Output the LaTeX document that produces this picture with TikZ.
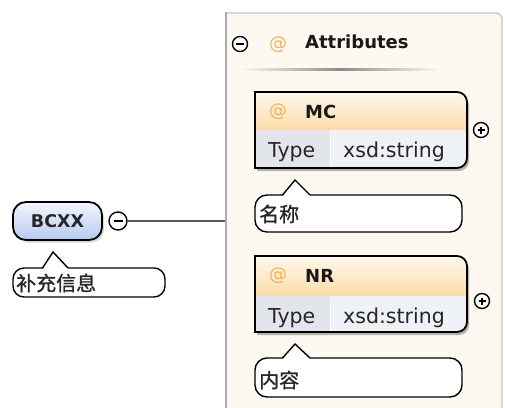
\documentclass[tikz,border=0pt]{standalone}
\usepackage{fontspec}
\setmainfont{DejaVu Sans}
\newfontfamily\cjk[FakeBold=1]{Noto Sans CJK SC}
\usetikzlibrary{shadows}
\definecolor{panelbg}{HTML}{FDF9F1}
\definecolor{panelline}{HTML}{ABABAB}
\definecolor{hdrtop}{HTML}{FFF8EC}
\definecolor{hdrbot}{HTML}{FBDCA8}
\definecolor{typecell}{HTML}{E2E6EC}
\definecolor{valcell}{HTML}{EEF2F7}
\definecolor{atcol}{HTML}{F2B35A}
\definecolor{pilltop}{HTML}{F2F6FD}
\definecolor{pillbot}{HTML}{B6CAEE}
\begin{document}
\begin{tikzpicture}[x=1pt,y=-1pt,
  txt/.style={inner sep=0pt, text=black!85, font=\fontsize{20.5}{24}\selectfont},
  btxt/.style={inner sep=0pt, text=black!90, font=\bfseries\fontsize{18}{22}\selectfont},
  cjktxt/.style={inner sep=0pt, text=black!85, font=\cjk\fontsize{20}{24}\selectfont},
  atsign/.style={inner sep=0pt, text=atcol, font=\fontsize{18}{20}\selectfont},
  togglec/.style={circle, draw, line width=1.4pt, minimum size=15pt, inner sep=0pt, fill=white},
  callout/.style={draw, line width=1.4pt, fill=white, rounded corners=12pt},
  boxline/.style={draw, line width=1.8pt},
  boxshadow/.style={fill=black, opacity=0.28},
]
\useasboundingbox (0,0) rectangle (505,407);
\fill[white] (0,0) rectangle (505,407);

% ---------- attributes panel ----------
\fill[panelbg] (226,420) -- (226,13) -- (496,13) arc[start angle=-90,end angle=0,radius=6] -- (502,420) -- cycle;
\draw[panelline!70, line width=1.2pt] (226,13) -- (496,13) arc[start angle=-90,end angle=0,radius=6] -- (502,420);
\draw[panelline, line width=2.8pt] (226,420) -- (226,12);
\coordinate (panelL) at (225,221);

\node[togglec] (attrtog) at (240,44) {};
\draw[line width=1.3pt] ([xshift=-4pt]attrtog.center) -- ([xshift=4pt]attrtog.center);
\node[atsign] (attrat) at (278,45) {@};
\node[btxt, anchor=base west] (attrs) at (305,48) {Attributes};
\shade[left color=panelbg, right color=panelbg, middle color=black!45] (240,68) rectangle (440,70);

% ---------- MC box ----------
\fill[boxshadow, xshift=2pt, yshift=-3pt] (255,92) -- (457,92) arc[start angle=-90,end angle=0,radius=10] -- (467,158) arc[start angle=0,end angle=90,radius=10] -- (255,168) -- cycle;
\begin{scope}
\clip (255,92) -- (457,92) arc[start angle=-90,end angle=0,radius=10] -- (467,158) arc[start angle=0,end angle=90,radius=10] -- (255,168) -- cycle;
\fill[white] (255,92) rectangle (467,168);
\shade[top color=hdrtop, bottom color=hdrbot] (255,92) rectangle (467,130);
\fill[typecell] (255,130) rectangle (330,168);
\fill[valcell] (331,130) rectangle (467,168);
\end{scope}
\draw[boxline] (255,92) -- (457,92) arc[start angle=-90,end angle=0,radius=10] -- (467,158) arc[start angle=0,end angle=90,radius=10] -- (255,168) -- cycle;
\node[atsign] (mcat) at (278,112) {@};
\node[btxt, anchor=base west] (mc) at (305,118) {MC};
\node[txt, anchor=base west] (mctype) at (268,157) {Type};
\node[txt, anchor=base west] (mcval) at (343,157) {xsd:string};
\node[togglec] (mctog) at (481,130) {};
\draw[line width=1.2pt] ([xshift=-3.5pt]mctog.center) -- ([xshift=3.5pt]mctog.center);
\draw[line width=1.2pt] ([yshift=-3.5pt]mctog.center) -- ([yshift=3.5pt]mctog.center);

% MC callout
\draw[callout] (255,195) rectangle (462,232);
\fill[white] (283.5,193.5) rectangle (309.5,196.5);
\fill[white] (283,196) -- (295,181) -- (309,196) -- cycle;
\draw[line width=1.4pt, line join=miter] (282.5,195) -- (295,180) -- (310,195);
\node[cjktxt, anchor=west] (mcdoc) at (259,214) {名称};

% ---------- NR box ----------
\fill[boxshadow, xshift=2pt, yshift=-3pt] (255,256) -- (457,256) arc[start angle=-90,end angle=0,radius=10] -- (467,322) arc[start angle=0,end angle=90,radius=10] -- (255,332) -- cycle;
\begin{scope}
\clip (255,256) -- (457,256) arc[start angle=-90,end angle=0,radius=10] -- (467,322) arc[start angle=0,end angle=90,radius=10] -- (255,332) -- cycle;
\fill[white] (255,256) rectangle (467,332);
\shade[top color=hdrtop, bottom color=hdrbot] (255,256) rectangle (467,296);
\fill[typecell] (255,296) rectangle (330,332);
\fill[valcell] (331,296) rectangle (467,332);
\end{scope}
\draw[boxline] (255,256) -- (457,256) arc[start angle=-90,end angle=0,radius=10] -- (467,322) arc[start angle=0,end angle=90,radius=10] -- (255,332) -- cycle;
\node[atsign] (nrat) at (278,276) {@};
\node[btxt, anchor=base west] (nr) at (305,282) {NR};
\node[txt, anchor=base west] (nrtype) at (268,323) {Type};
\node[txt, anchor=base west] (nrval) at (343,323) {xsd:string};
\node[togglec] (nrtog) at (482,301) {};
\draw[line width=1.2pt] ([xshift=-3.5pt]nrtog.center) -- ([xshift=3.5pt]nrtog.center);
\draw[line width=1.2pt] ([yshift=-3.5pt]nrtog.center) -- ([yshift=3.5pt]nrtog.center);

% NR callout
\draw[callout] (255,358) rectangle (462,397);
\fill[white] (283.5,356.5) rectangle (309.5,359.5);
\fill[white] (283,359) -- (295,345) -- (309,359) -- cycle;
\draw[line width=1.4pt, line join=miter] (282.5,358) -- (295,344) -- (310,358);
\node[cjktxt, anchor=west] (nrdoc) at (259,380) {内容};

% ---------- BCXX element ----------
\node[draw, line width=1.8pt, rounded corners=13pt, minimum width=89pt, minimum height=38pt,
      top color=pilltop, bottom color=pillbot, inner sep=0pt, text=black!85,
      drop shadow={shadow xshift=2pt, shadow yshift=-2.5pt, opacity=0.3},
      font=\bfseries\fontsize{17.5}{21}\selectfont] (bcxx) at (57.5,221) {BCXX};
\node[togglec, minimum size=18pt] (bcxxtog) at (118,221) {};
\draw[line width=1.3pt] ([xshift=-4.5pt]bcxxtog.center) -- ([xshift=4.5pt]bcxxtog.center);
\draw[black!65, line width=2.6pt] (bcxxtog.east) -- (panelL);

% BCXX callout
\draw[callout, rounded corners=11pt] (13,268) rectangle (165,297);
\fill[white] (43.5,266.5) rectangle (67.5,269.5);
\fill[white] (43,269) -- (53,253) -- (67,269) -- cycle;
\draw[line width=1.4pt, line join=miter] (42.5,268) -- (53,252) -- (68,268);
\node[cjktxt, anchor=west] (bcxxdoc) at (16,283) {补充信息};
\end{tikzpicture}
\end{document}
